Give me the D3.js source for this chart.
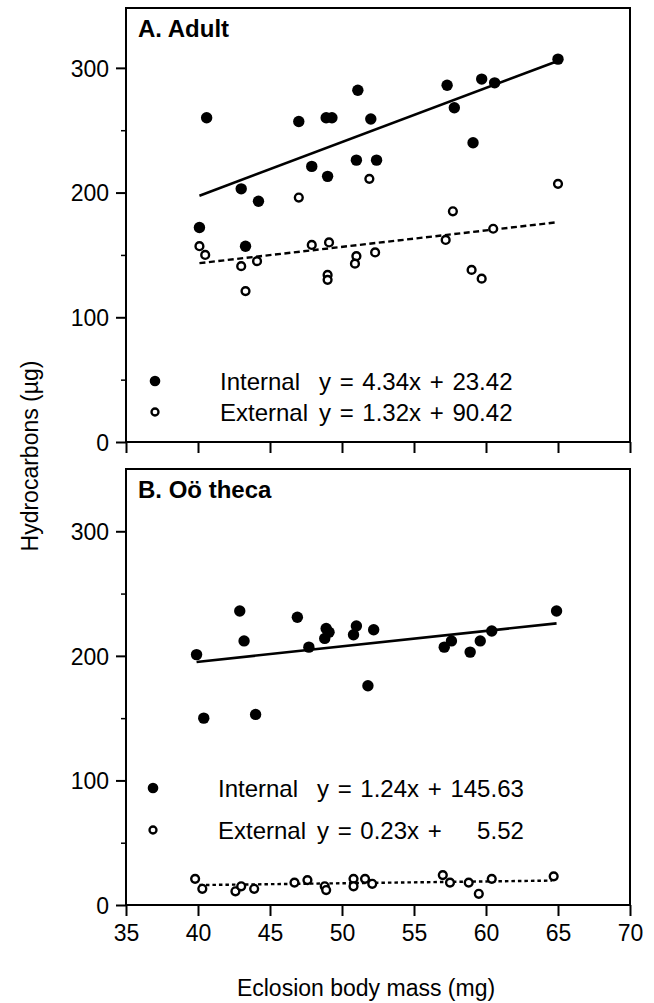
<!DOCTYPE html>
<html>
<head>
<meta charset="utf-8">
<script src="https://cdn.jsdelivr.net/npm/d3@7"></script>
<style>
  html, body { margin: 0; padding: 0; background: #fff; }
  svg { display: block; }
  text { font-family: "Liberation Sans", Arial, Helvetica, sans-serif; fill: #000; }
</style>
</head>
<body>
<svg id="chart" width="654" height="1003"></svg>
<script>
// ---------------- data ----------------
const xTickValues = [35, 40, 45, 50, 55, 60, 65, 70];
const yMajorTicks = [0, 100, 200, 300];
const yMinorTicks = [50, 150, 250];
const panelTitles = ["A. Adult", "B. Oö theca"];
const seriesNames = ["Internal", "External"];

// A. Adult  [body mass (mg), hydrocarbons (µg)]
const adultInternal = [
  [40.1, 172], [40.6, 260], [43.0, 203], [43.3, 157], [44.2, 193],
  [47.0, 257], [47.9, 221], [48.9, 260], [49.3, 260], [49.0, 213],
  [51.0, 226], [51.1, 282], [52.0, 259], [52.4, 226], [57.3, 286],
  [57.8, 268], [59.1, 240], [59.7, 291], [60.6, 288], [65.0, 307]
];
const adultExternal = [
  [40.1, 157], [40.5, 150], [43.0, 141], [43.3, 121], [44.1, 145],
  [47.0, 196], [47.9, 158], [49.1, 160], [49.0, 134], [49.0, 130],
  [51.0, 149], [50.9, 143], [51.9, 211], [52.3, 152], [57.2, 162],
  [57.7, 185], [59.0, 138], [59.7, 131], [60.5, 171], [65.0, 207]
];
// B. Oötheca
const oothecaInternal = [
  [39.9, 201], [40.4, 150], [42.9, 236], [43.2, 212], [44.0, 153],
  [46.9, 231], [47.7, 207], [48.9, 222], [49.1, 219], [48.8, 214],
  [51.0, 224], [50.8, 217], [52.2, 221], [51.8, 176], [57.1, 207],
  [57.6, 212], [58.9, 203], [59.6, 212], [60.4, 220], [64.9, 236]
];
const oothecaExternal = [
  [39.8, 21], [40.3, 13], [42.6, 11], [43.0, 15], [43.9, 13],
  [46.7, 18], [47.6, 20], [48.8, 15], [48.9, 12], [50.8, 21],
  [50.8, 15], [51.6, 21], [52.1, 17], [57.0, 24], [57.5, 18],
  [58.8, 18], [59.5, 9], [60.4, 21], [64.7, 23]
];

// regression line end points [x, y]
const adultInternalFit = [[40.1, 197.5], [64.8, 304.7]];
const adultExternalFit = [[40.1, 143.4], [64.8, 176.0]];
const oothecaInternalFit = [[39.9, 195.1], [64.9, 226.1]];
const oothecaExternalFit = [[40.1, 16.0], [64.6, 19.6]];

const adultEquations = ["y = 4.34x + 23.42", "y = 1.32x + 90.42"];
const oothecaEquations = ["y = 1.24x + 145.63", "y = 0.23x +", "5.52"];

// ---------------- layout ----------------
const svg = d3.select("#chart");
svg.append("rect").attr("width", 654).attr("height", 1003).attr("fill", "#fff");

const xLeft = 126, xRight = 630;
const x = d3.scaleLinear().domain([35, 70]).range([xLeft, xRight]);

const panels = [
  { title: panelTitles[0], top: 8, bottom: 442, ymax: 348,
    internal: adultInternal, external: adultExternal,
    fitI: adultInternalFit, fitE: adultExternalFit,
    dashE: "6,3.5", labels: false,
    legend: { dotX: 155, y1: 381, y2: 412, nameX: 220, eqX1: 319, eqX2: 319 } },
  { title: panelTitles[1], top: 469, bottom: 905, ymax: 350,
    internal: oothecaInternal, external: oothecaExternal,
    fitI: oothecaInternalFit, fitE: oothecaExternalFit,
    dashE: "3.5,3", labels: true,
    legend: { dotX: 153, y1: 788, y2: 830, nameX: 218, eqX1: 317, eqX2: 317 } }
];

const FS = 23;   // tick labels
const LFS = 24;  // legend text

panels.forEach((p, i) => {
  const y = d3.scaleLinear().domain([0, p.ymax]).range([p.bottom, p.top]);
  const g = svg.append("g");

  // frame
  g.append("rect")
    .attr("x", xLeft).attr("y", p.top)
    .attr("width", xRight - xLeft).attr("height", p.bottom - p.top)
    .attr("fill", "none").attr("stroke", "#000").attr("stroke-width", 2);

  // y axis major
  const yAxis = d3.axisLeft(y).tickValues(yMajorTicks).tickSize(10).tickPadding(7)
    .tickFormat(d3.format("d"));
  const ya = g.append("g").attr("transform", `translate(${xLeft},0)`).call(yAxis);
  ya.select(".domain").remove();
  ya.selectAll("line").attr("stroke", "#000").attr("stroke-width", 2);
  ya.selectAll("text").attr("font-size", FS).attr("font-family", null).attr("dy", "0.36em");

  // y axis minor
  const yMinor = d3.axisLeft(y).tickValues(yMinorTicks).tickSize(5).tickFormat("");
  const ym = g.append("g").attr("transform", `translate(${xLeft},0)`).call(yMinor);
  ym.select(".domain").remove();
  ym.selectAll("line").attr("stroke", "#000").attr("stroke-width", 1.5);

  // x axis
  const xAxis = d3.axisBottom(x).tickValues(xTickValues).tickSize(11).tickPadding(9)
    .tickFormat(p.labels ? d3.format("d") : "");
  const xa = g.append("g").attr("transform", `translate(0,${p.bottom})`).call(xAxis);
  xa.select(".domain").remove();
  xa.selectAll("line").attr("stroke", "#000").attr("stroke-width", 2);
  xa.selectAll("text").attr("font-size", FS).attr("font-family", null).attr("dy", "0.71em");

  // title
  g.append("text").attr("x", 138).attr("y", p.top + 29)
    .attr("font-size", 24).attr("font-weight", "bold").text(p.title);

  const line = d3.line().x(d => x(d[0])).y(d => y(d[1]));

  // regression lines
  g.append("path").datum(p.fitI).attr("d", line)
    .attr("fill", "none").attr("stroke", "#000").attr("stroke-width", 2.6);
  g.append("path").datum(p.fitE).attr("d", line)
    .attr("fill", "none").attr("stroke", "#000").attr("stroke-width", 2.4)
    .attr("stroke-dasharray", p.dashE);

  // points
  g.append("g").selectAll("circle").data(p.external).join("circle")
    .attr("cx", d => x(d[0])).attr("cy", d => y(d[1])).attr("r", 3.9)
    .attr("fill", "#fff").attr("stroke", "#000").attr("stroke-width", 2.4);
  g.append("g").selectAll("circle").data(p.internal).join("circle")
    .attr("cx", d => x(d[0])).attr("cy", d => y(d[1])).attr("r", 5.7)
    .attr("fill", "#000");

  // legend
  const L = p.legend;
  g.append("circle").attr("cx", L.dotX).attr("cy", L.y1).attr("r", 5.3).attr("fill", "#000");
  g.append("circle").attr("cx", L.dotX).attr("cy", L.y2).attr("r", 3.5)
    .attr("fill", "#fff").attr("stroke", "#000").attr("stroke-width", 2.3);
  const lt = (xx, yy, s, anchor) => g.append("text").attr("x", xx).attr("y", yy + 9)
    .attr("font-size", LFS).attr("word-spacing", 2)
    .attr("text-anchor", anchor || "start").text(s);
  lt(L.nameX, L.y1, seriesNames[0]);
  lt(L.nameX, L.y2, seriesNames[1]);
  if (i === 0) {
    lt(L.eqX1, L.y1, adultEquations[0]);
    lt(L.eqX2, L.y2, adultEquations[1]);
  } else {
    const t1 = lt(L.eqX1, L.y1, oothecaEquations[0]);
    const bb = t1.node().getBBox();
    lt(L.eqX2, L.y2, oothecaEquations[1]);
    lt(bb.x + bb.width, L.y2, oothecaEquations[2], "end");
  }
});

// axis titles
svg.append("text").attr("x", 366).attr("y", 996).attr("text-anchor", "middle")
  .attr("font-size", 23).text("Eclosion body mass (mg)");
svg.append("text").attr("transform", "translate(38,456) rotate(-90)")
  .attr("text-anchor", "middle").attr("font-size", 23).text("Hydrocarbons (µg)");
</script>
</body>
</html>
